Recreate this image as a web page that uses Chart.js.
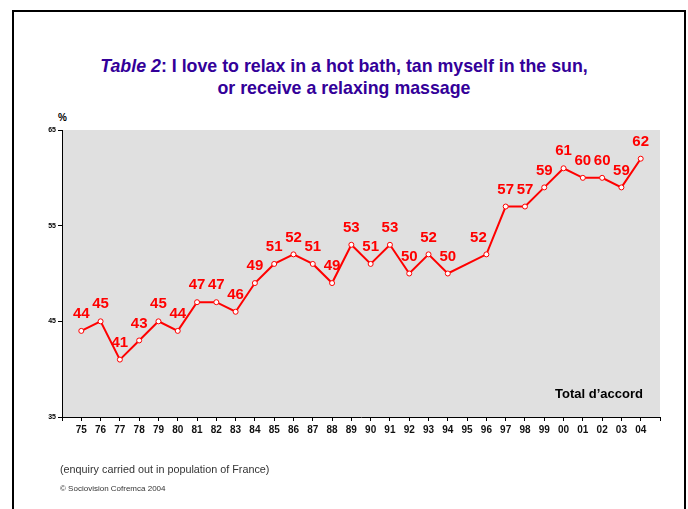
<!DOCTYPE html>
<html>
<head>
<meta charset="utf-8">
<script src="https://cdn.jsdelivr.net/npm/chart.js@4/dist/chart.umd.min.js"></script>
<style>
  body { margin: 0; background: #fff; }
  #wrap { position: relative; width: 688px; height: 509px; overflow: hidden; font-family: Arial, "Liberation Sans", sans-serif; }
  #frame { position: absolute; left: 12px; top: 10px; width: 670px; height: 520px; border: 2px solid #000; border-bottom: none; }
  #title { position: absolute; left: 0; top: 55px; width: 688px; text-align: center; color: #330099; font-weight: bold; font-size: 17.8px; line-height: 22px; }
  #pct { position: absolute; left: 58px; top: 112px; font-size: 10px; font-weight: bold; color: #000; }
  #note { position: absolute; left: 60px; top: 463px; font-family: "Liberation Sans Narrow", Arial, sans-serif; font-size: 10.8px; color: #333; }
  #copy { position: absolute; left: 60px; top: 484px; font-size: 8px; color: #333; }
  canvas { position: absolute; left: 0; top: 0; }
</style>
</head>
<body>
<div id="wrap">
  <div id="frame"></div>
  <div id="title"><i>Table 2</i>: I love to relax in a hot bath, tan myself in the sun,<br>or receive a relaxing massage</div>
  <div id="pct">%</div>
  <canvas id="chart" width="688" height="509"></canvas>
  <div id="note">(enquiry carried out in population of France)</div>
  <div id="copy">© Sociovision Cofremca 2004</div>
</div>
<script>
const years = ["75", "76", "77", "78", "79", "80", "81", "82", "83", "84", "85", "86", "87", "88", "89",
  "90", "91", "92", "93", "94", "95", "96", "97", "98", "99", "00", "01", "02", "03", "04"];
const agree_values = [44, 45, 41, 43, 45, 44, 47, 47, 46, 49, 51, 52, 51, 49, 53,
  51, 53, 50, 52, 50, null, 52, 57, 57, 59, 61, 60, 60, 59, 62];
const y_ticks = [35, 45, 55, 65];
const series_name = "Total d\u2019accord";

// empty slots at both ends give the space before 75 and after 04
const labels = [""].concat(years, [""]);
const values = [null].concat(agree_values, [null]);
const label_shift = { "96": -8 };

const plotBackground = {
  id: "plotBackground",
  beforeDraw(chart) {
    const a = chart.chartArea;
    chart.ctx.save();
    chart.ctx.fillStyle = "#e0e0e0";
    chart.ctx.fillRect(a.left, a.top, a.right - a.left, a.bottom - a.top);
    chart.ctx.restore();
  }
};

const valueLabels = {
  id: "valueLabels",
  afterDatasetsDraw(chart) {
    const ctx = chart.ctx;
    const meta = chart.getDatasetMeta(0);
    const data = chart.data.datasets[0].data;
    ctx.save();
    ctx.font = "bold 15px Arial";
    ctx.fillStyle = "#ff0000";
    ctx.textAlign = "center";
    ctx.textBaseline = "middle";
    meta.data.forEach(function(pt, i) {
      if (data[i] == null) return;
      const dx = label_shift[chart.data.labels[i]] || 0;
      ctx.fillText(data[i], pt.x + dx, pt.y - 17);
    });
    // series caption in the corner of the plot
    const a = chart.chartArea;
    ctx.font = "bold 13px Arial";
    ctx.fillStyle = "#000";
    ctx.textAlign = "right";
    ctx.fillText(series_name, a.right - 17, a.bottom - 23);
    ctx.restore();
  }
};

new Chart("chart", {
  type: "line",
  data: {
    labels: labels,
    datasets: [{
      label: series_name,
      data: values,
      borderColor: "#ff0000",
      borderWidth: 2,
      tension: 0,
      spanGaps: true,
      pointRadius: 2.5,
      pointBorderWidth: 1,
      pointBackgroundColor: "#ffffff",
      pointBorderColor: "#ff0000"
    }]
  },
  options: {
    responsive: false,
    animation: false,
    layout: { padding: { top: 130, right: 28, bottom: 62, left: 0 } },
    plugins: { legend: { display: false }, tooltip: { enabled: false } },
    scales: {
      x: {
        offset: false,
        afterFit: function(scale) { scale.height = 30; },
        border: { color: "#000", width: 1 },
        grid: { drawOnChartArea: false, tickLength: 4, color: "#000" },
        ticks: { autoSkip: false, maxRotation: 0, padding: 3, color: "#111", font: { family: "Arial", size: 10, weight: "bold" } }
      },
      y: {
        min: 35,
        max: 65,
        afterFit: function(scale) { scale.width = 62; },
        afterBuildTicks: function(scale) { scale.ticks = y_ticks.map(v => ({ value: v })); },
        border: { color: "#000", width: 1 },
        grid: { drawOnChartArea: false, tickLength: 4, color: "#000" },
        ticks: { padding: 2, color: "#000", font: { family: "Arial", size: 7, weight: "bold" } }
      }
    }
  },
  plugins: [plotBackground, valueLabels]
});
</script>
</body>
</html>
